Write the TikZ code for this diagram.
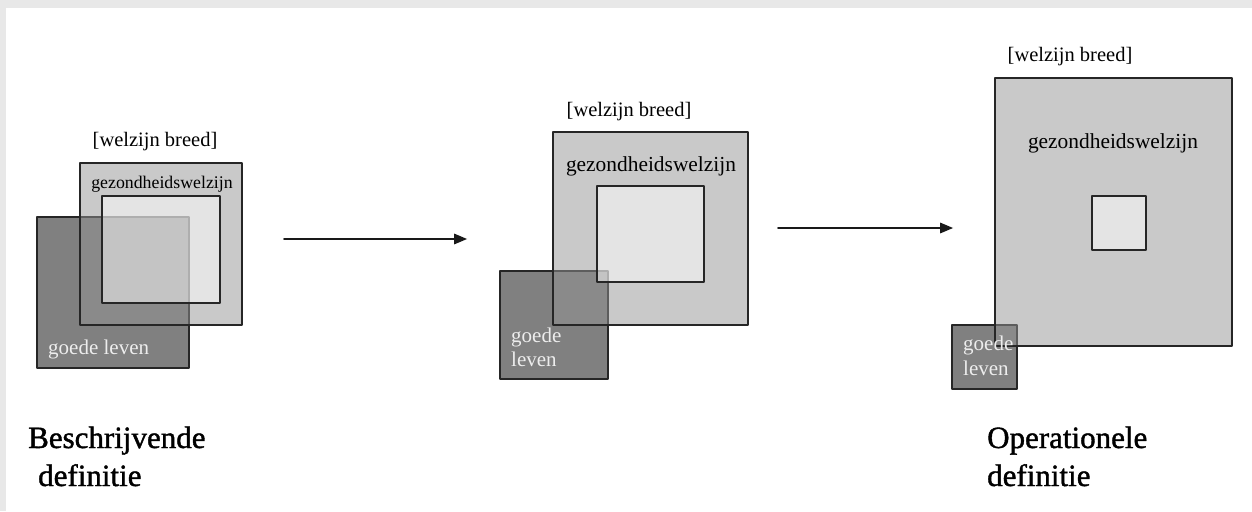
\documentclass[tikz,border=0pt]{standalone}
\usepackage{fontspec}
\setmainfont{Liberation Serif}
\newfontfamily\heavyserif[FakeBold=1.3]{Liberation Serif}
\usetikzlibrary{arrows}
\tikzset{
  darkbox/.style={draw=black!85,line width=1.8pt,fill=black!50},
  outerbox/.style={draw=black!85,line width=1.8pt,fill=black!42,fill opacity=0.5},
  innerbox/.style={draw=black!85,line width=1.8pt,fill=white,fill opacity=0.5},
  widelabel/.style={font=\fontsize{20.5}{23}\selectfont,inner sep=0pt,anchor=base},
  healthlabel/.style={font=\fontsize{21.4}{23}\selectfont,inner sep=0pt,anchor=base},
  lifelabel/.style={font=\fontsize{21}{23}\selectfont,text=white!93!black,inner sep=0pt,anchor=base west},
  deflabel/.style={font=\heavyserif\fontsize{31}{38}\selectfont,inner sep=0pt,anchor=base west},
  flow/.style={->,line width=2pt,black!90}
}
\begin{document}
\begin{tikzpicture}[line cap=round,line join=round,>=triangle 45,x=1pt,y=-1pt]
		\useasboundingbox (0,0) rectangle (1252,511);
		% frame
		\fill [black!9] (0,0) rectangle (1252,511);
		\fill [white] (6,8) rectangle (1252,511);
		% descriptive
		\draw [darkbox] (37,217) rectangle (189,368);
		\draw [outerbox] (80,163) rectangle (242,325);
		\draw [innerbox] (102,196) rectangle (220,303);
		\node [widelabel] (wide1) at (155,146) {[welzijn breed]};
		\node [healthlabel,font=\fontsize{17.8}{20}\selectfont] (health1) at (162,188) {gezondheidswelzijn};
		\node [lifelabel] (life1) at (48,354) {goede leven};
		\node [deflabel] (desc1) at (28,448) {Beschrijvende};
		\node [deflabel] (desc2) at (38,486) {definitie};
		% middle
		\draw [darkbox] (500,271) rectangle (608,379);
		\draw [outerbox] (553,132) rectangle (748,325);
		\draw [innerbox] (597,186) rectangle (704,282);
		\node [widelabel] (wide2) at (629,116) {[welzijn breed]};
		\node [healthlabel] (health2) at (651,171) {gezondheidswelzijn};
		\node [lifelabel] (life2a) at (511,342) {goede};
		\node [lifelabel] (life2b) at (511,366) {leven};
		% operational
		\draw [darkbox] (952,325) rectangle (1017,389);
		\draw [outerbox] (995,78) rectangle (1232,346);
		\draw [innerbox] (1092,196) rectangle (1146,250);
		\node [widelabel] (wide3) at (1070,62) {[welzijn breed]};
		\node [healthlabel] (health3) at (1113,148) {gezondheidswelzijn};
		\node [lifelabel] (life3a) at (963,350) {goede};
		\node [lifelabel] (life3b) at (963,375) {leven};
		\node [deflabel] (oper1) at (987,448) {Operationele};
		\node [deflabel] (oper2) at (987,486) {definitie};
		% arrows
		\coordinate (a1) at (284,239);
		\coordinate (b1) at (467,239);
		\coordinate (a2) at (778,228);
		\coordinate (b2) at (953,228);
		\draw [flow] (a1) -- (b1);
		\draw [flow] (a2) -- (b2);
		\end{tikzpicture}
\end{document}
